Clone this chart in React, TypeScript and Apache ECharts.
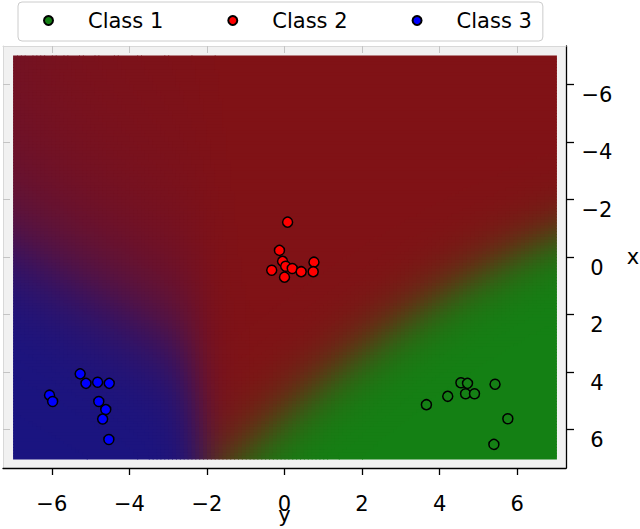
import React, { useEffect, useRef } from "react";
import * as echarts from "echarts";

// ---------- data ----------
const classNames = ["Class 1", "Class 2", "Class 3"];
const pointColors = ["#158015", "#ff0000", "#0000ff"];

// [horizontal value ("y" axis), vertical value ("x" axis)]
const class1Points: [number, number][] = [
  [4.55, 4.37], [4.72, 4.39], [5.43, 4.42], [4.21, 4.84], [4.67, 4.75],
  [4.9, 4.75], [3.66, 5.13], [5.76, 5.62], [5.4, 6.51],
];
const class2Points: [number, number][] = [
  [0.08, -1.21], [-0.13, -0.23], [-0.05, 0.15], [0.03, 0.32], [0.2, 0.4],
  [-0.33, 0.46], [0.0, 0.7], [0.43, 0.51], [0.76, 0.18], [0.74, 0.51],
];
const class3Points: [number, number][] = [
  [-5.27, 4.06], [-5.12, 4.39], [-4.82, 4.35], [-4.52, 4.39], [-6.06, 4.8],
  [-5.98, 5.02], [-4.79, 5.02], [-4.61, 5.3], [-4.69, 5.63], [-4.53, 6.34],
];

const tickValues = [-6, -4, -2, 0, 2, 4, 6];
const hRange = 7.26; // horizontal axis ("y")
const vRange = 7.33; // vertical axis ("x"), inverted

// ---------- decision-surface parameters ----------
const fieldMin = -7;
const fieldMax = 7;
const fieldStep = 0.1;
const bgGreen = [20, 128, 20];
const bgRed = [128, 18, 22];
const bgBlue = [26, 20, 128];
const greenBoundary = [5.5, -1.186, 0.0429]; // v = a + b h + c h^2
const greenSharpness = 2.1;
const blueEdgeH = -2.1;
const blueEdgeTilt = 0.08;
const blueEdgeSharpness = 3.5;
const blueSlopeAnchor = [-7, -0.8];
const blueSlope = 0.8;
const blueSlopeSharpIn = 1.1;
const blueSlopeSharpOut = 1.0;
const blueFarCap = 2.2;
const blueFarCapGrowth = 0.6;

function probsAt(h: number, v: number) {
  const [a, b, c] = greenBoundary;
  const g = a + b * h + c * h * h;
  const gp = b + 2 * c * h;
  const zg = (greenSharpness * (v - g)) / Math.sqrt(1 + gp * gp);
  const L1 = blueEdgeSharpness * (blueEdgeH - blueEdgeTilt * (7 - v) - h);
  const vLine = blueSlopeAnchor[1] + blueSlope * (h - blueSlopeAnchor[0]);
  const d = (v - vLine) / Math.sqrt(1 + blueSlope * blueSlope);
  const cap = blueFarCap + blueFarCapGrowth * (h - fieldMin);
  const L2 = d > 0 ? blueSlopeSharpIn * d : -cap * (1 - Math.exp((blueSlopeSharpOut * d) / cap));
  const zb = Math.min(L1, L2) - Math.log(1 + Math.exp(-Math.abs(L1 - L2)));
  const zr = 0;
  const mx = Math.max(zg, zr, zb);
  const eg = Math.exp(zg - mx);
  const er = Math.exp(zr - mx);
  const eb = Math.exp(zb - mx);
  const s = eg + er + eb;
  return [eg / s, er / s, eb / s];
}

function colorAt(h: number, v: number) {
  const [pg, pr, pb] = probsAt(h, v);
  const ch = [0, 1, 2].map((k) => Math.min(255, Math.round(pg * bgGreen[k] + pr * bgRed[k] + pb * bgBlue[k])));
  return `rgb(${ch[0]},${ch[1]},${ch[2]})`;
}

function buildField() {
  const cells: number[][] = [];
  const colors: string[] = [];
  const n = Math.round((fieldMax - fieldMin) / fieldStep);
  for (let j = 0; j < n; j++) {
    const v0 = fieldMin + j * fieldStep;
    const v1 = v0 + fieldStep;
    const v = (v0 + v1) / 2;
    let runStart = 0;
    let runColor = "";
    for (let i = 0; i <= n; i++) {
      let col = "";
      if (i < n) col = colorAt(fieldMin + (i + 0.5) * fieldStep, v);
      if (i === n || col !== runColor) {
        if (i > 0) {
          cells.push([fieldMin + runStart * fieldStep, fieldMin + i * fieldStep, v0, v1]);
          colors.push(runColor);
        }
        runStart = i;
        runColor = col;
      }
    }
  }
  return { cells, colors };
}

const fmt = (v: number) => (v < 0 ? "\u2212" + Math.abs(v) : String(v));
const FONT = "DejaVu Sans";

export default function App() {
  const ref = useRef<HTMLDivElement>(null);
  useEffect(() => {
    if (!ref.current) return;
    const chart = echarts.init(ref.current, undefined, { renderer: "svg" });
    const { cells, colors } = buildField();
    const lightLine = "#d8d8d8";
    const lightTick = "#c4c4c4";

    const pointSeries = [class1Points, class2Points, class3Points].map((pts, k) => ({
      name: classNames[k],
      type: "scatter",
      xAxisIndex: 0,
      yAxisIndex: 0,
      data: pts,
      symbol: "circle",
      symbolSize: 10,
      z: 5,
      itemStyle: { color: pointColors[k], borderColor: "#000", borderWidth: 1.5, opacity: 1 },
    }));

    chart.setOption({
      animation: false,
      grid: {
        left: 3,
        right: 74,
        top: 46,
        bottom: 61,
        show: true,
        backgroundColor: "#f1f1f1",
        borderWidth: 0,
        containLabel: false,
        outerBoundsMode: "none",
      },
      legend: {
        left: 18,
        top: 2,
        orient: "horizontal",
        selectedMode: false,
        data: classNames.map((n) => ({ name: n, icon: "circle" })),
        itemWidth: 9,
        itemHeight: 9,
        itemGap: 64,
        padding: [8, 11, 10, 25],
        backgroundColor: "#ffffff",
        borderColor: "#cccccc",
        borderWidth: 1,
        borderRadius: 4,
        textStyle: {
          fontSize: 21,
          fontFamily: FONT,
          color: "#000",
          padding: [0, 0, 0, 30],
        },
      },
      xAxis: [
        {
          type: "value",
          position: "bottom",
          min: -hRange,
          max: hRange,
          name: "y",
          nameLocation: "middle",
          nameGap: 46.5,
          nameMoveOverlap: false,
          nameTextStyle: {
            fontSize: 21,
            fontFamily: FONT,
            color: "#000",
            align: "center",
            verticalAlign: "middle",
            lineHeight: 10,
          },
          axisLine: { show: true, onZero: false, lineStyle: { color: "#000", width: 1.3 } },
          axisTick: { show: true, customValues: tickValues, length: 7, lineStyle: { color: "#000", width: 1.3 } },
          axisLabel: {
            customValues: tickValues,
            formatter: fmt,
            fontSize: 21,
            fontFamily: FONT,
            color: "#000",
            margin: 35.5,
            verticalAlign: "middle",
            lineHeight: 10,
          },
          splitLine: { show: false },
        },
        {
          type: "value",
          position: "bottom",
          min: -hRange,
          max: hRange,
          axisLine: { show: false },
          axisTick: { show: true, inside: true, customValues: tickValues, length: 5, lineStyle: { color: "#000", width: 1.3 } },
          axisLabel: { show: false },
          splitLine: { show: false },
        },
        {
          type: "value",
          position: "top",
          min: -hRange,
          max: hRange,
          axisLine: { show: true, onZero: false, lineStyle: { color: lightLine, width: 1 } },
          axisTick: { show: true, inside: true, customValues: tickValues, length: 7, lineStyle: { color: lightTick, width: 1 } },
          axisLabel: { show: false },
          splitLine: { show: false },
        },
      ],
      yAxis: [
        {
          type: "value",
          position: "right",
          inverse: true,
          min: -vRange,
          max: vRange,
          name: "x",
          nameLocation: "middle",
          nameGap: 67,
          nameRotate: 0,
          nameMoveOverlap: false,
          nameTextStyle: { fontSize: 21, fontFamily: FONT, color: "#000", align: "center", verticalAlign: "middle" },
          axisLine: { show: true, onZero: false, lineStyle: { color: "#000", width: 1.3 } },
          axisTick: { show: true, customValues: tickValues, length: 8, lineStyle: { color: "#000", width: 1.3 } },
          axisLabel: {
            customValues: tickValues,
            formatter: fmt,
            fontSize: 21,
            fontFamily: FONT,
            color: "#000",
            margin: 31,
            align: "center",
            verticalAlign: "top",
          },
          splitLine: { show: false },
        },
        {
          type: "value",
          position: "right",
          inverse: true,
          min: -vRange,
          max: vRange,
          axisLine: { show: false },
          axisTick: { show: true, inside: true, customValues: tickValues, length: 7, lineStyle: { color: "#000", width: 1.3 } },
          axisLabel: { show: false },
          splitLine: { show: false },
        },
        {
          type: "value",
          position: "left",
          inverse: true,
          min: -vRange,
          max: vRange,
          axisLine: { show: true, onZero: false, lineStyle: { color: lightLine, width: 1 } },
          axisTick: { show: true, inside: true, customValues: tickValues, length: 7, lineStyle: { color: lightTick, width: 1 } },
          axisLabel: { show: false },
          splitLine: { show: false },
        },
      ],
      series: [
        {
          type: "custom",
          name: "surface",
          xAxisIndex: 0,
          yAxisIndex: 0,
          silent: true,
          z: 1,
          progressive: 0,
          data: cells,
          encode: { x: [0, 1], y: [2, 3] },
          renderItem: (params: any, api: any) => {
            const p0 = api.coord([api.value(0), api.value(2)]);
            const p1 = api.coord([api.value(1), api.value(3)]);
            return {
              type: "rect",
              shape: {
                x: Math.min(p0[0], p1[0]),
                y: Math.min(p0[1], p1[1]),
                width: Math.abs(p1[0] - p0[0]) + 1,
                height: Math.abs(p1[1] - p0[1]) + 1,
              },
              style: { fill: colors[params.dataIndex] },
            };
          },
        },
        ...pointSeries,
      ],
    });
    return () => chart.dispose();
  }, []);
  return (
    <div
      ref={ref}
      style={{ position: "fixed", left: 0, top: 0, width: 640, height: 529, background: "#ffffff" }}
    />
  );
}
